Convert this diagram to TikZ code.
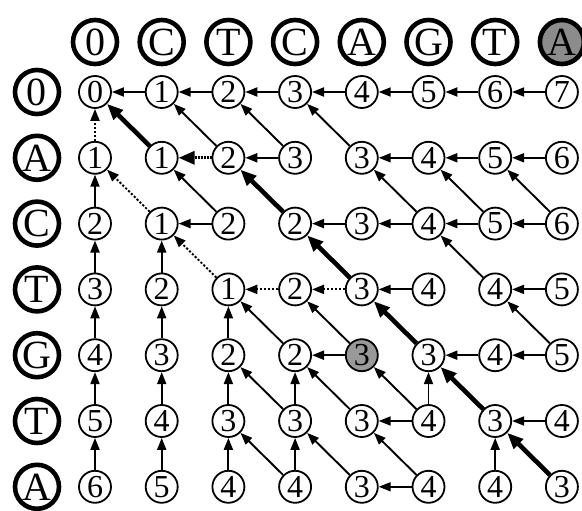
\documentclass[tikz,border=0pt]{standalone}
\usepackage{fontspec}
\setmainfont{Liberation Serif}
\usetikzlibrary{arrows.meta}

\begin{document}
\begin{tikzpicture}[x=1pt,y=-1pt,
  cell/.style={draw,circle,line width=1.8pt,minimum size=32pt,inner sep=0pt,font=\fontsize{32}{32}\selectfont},
  seqlbl/.style={draw,circle,line width=4.6pt,minimum size=44pt,inner sep=0pt,font=\fontsize{40}{40}\selectfont},
  lnk/.style={-{Triangle[length=12pt,width=9pt]},line width=1.9pt},
  dotlnk/.style={lnk,dash pattern=on 2.2pt off 1.8pt},
  boldlnk/.style={-{Triangle[length=16pt,width=13pt]},line width=4.6pt},
  bolddotlnk/.style={boldlnk,line width=3.2pt,dash pattern=on 2pt off 1pt}]
\useasboundingbox (0,0) rectangle (582,511);
\def\dx{66.7}
\def\dy{65.8}
\foreach \c/\f [count=\j from 0] in {0/white,C/white,T/white,C/white,A/white,G/white,T/white,A/black!45}
  \node[seqlbl,fill=\f] (h\j) at ({95+\dx*\j},42) {\c};
\foreach \c [count=\i from 0] in {0,A,C,T,G,T,A}
  \node[seqlbl] (r\i) at (37,{92+\dy*\i}) {\c};
\foreach \row [count=\i from 0] in {{0,1,2,3,4,5,6,7},{1,1,2,3,3,4,5,6},{2,1,2,2,3,4,5,6},{3,2,1,2,3,4,4,5},{4,3,2,2,3,3,4,5},{5,4,3,3,3,4,3,4},{6,5,4,4,3,4,4,3}}
  \foreach \v [count=\j from 0] in \row {
    \ifnum\i\j=44 \def\f{black!40}\else\def\f{white}\fi
    \node[cell,fill=\f] (c\i\j) at ({95+\dx*\j},{92+\dy*\i}) {\v};
  }
\foreach \a/\b in {01/00,02/01,03/02,04/03,05/04,06/05,07/06,
    12/01,13/12,13/02,14/03,15/14,16/15,17/16,
    20/10,22/21,22/11,24/23,25/24,25/14,26/25,26/15,27/26,27/16,
    30/20,31/21,35/34,36/25,37/36,
    40/30,41/31,42/32,43/32,44/43,44/33,46/45,47/46,47/36,
    50/40,51/41,52/42,53/43,53/42,54/43,55/54,55/45,55/44,57/56,
    60/50,61/51,62/52,63/53,63/52,64/53,65/64,65/54,66/56}
  \draw[lnk] (c\a) -- (c\b);
\foreach \a/\b in {10/00,21/10,32/21,33/32,34/33}
  \draw[dotlnk] (c\a) -- (c\b);
\foreach \a/\b in {11/00,23/12,34/23,45/34,56/45,67/56}
  \draw[boldlnk] (c\a) -- (c\b);
\draw[bolddotlnk] (c12) -- (c11);
\end{tikzpicture}
\end{document}
